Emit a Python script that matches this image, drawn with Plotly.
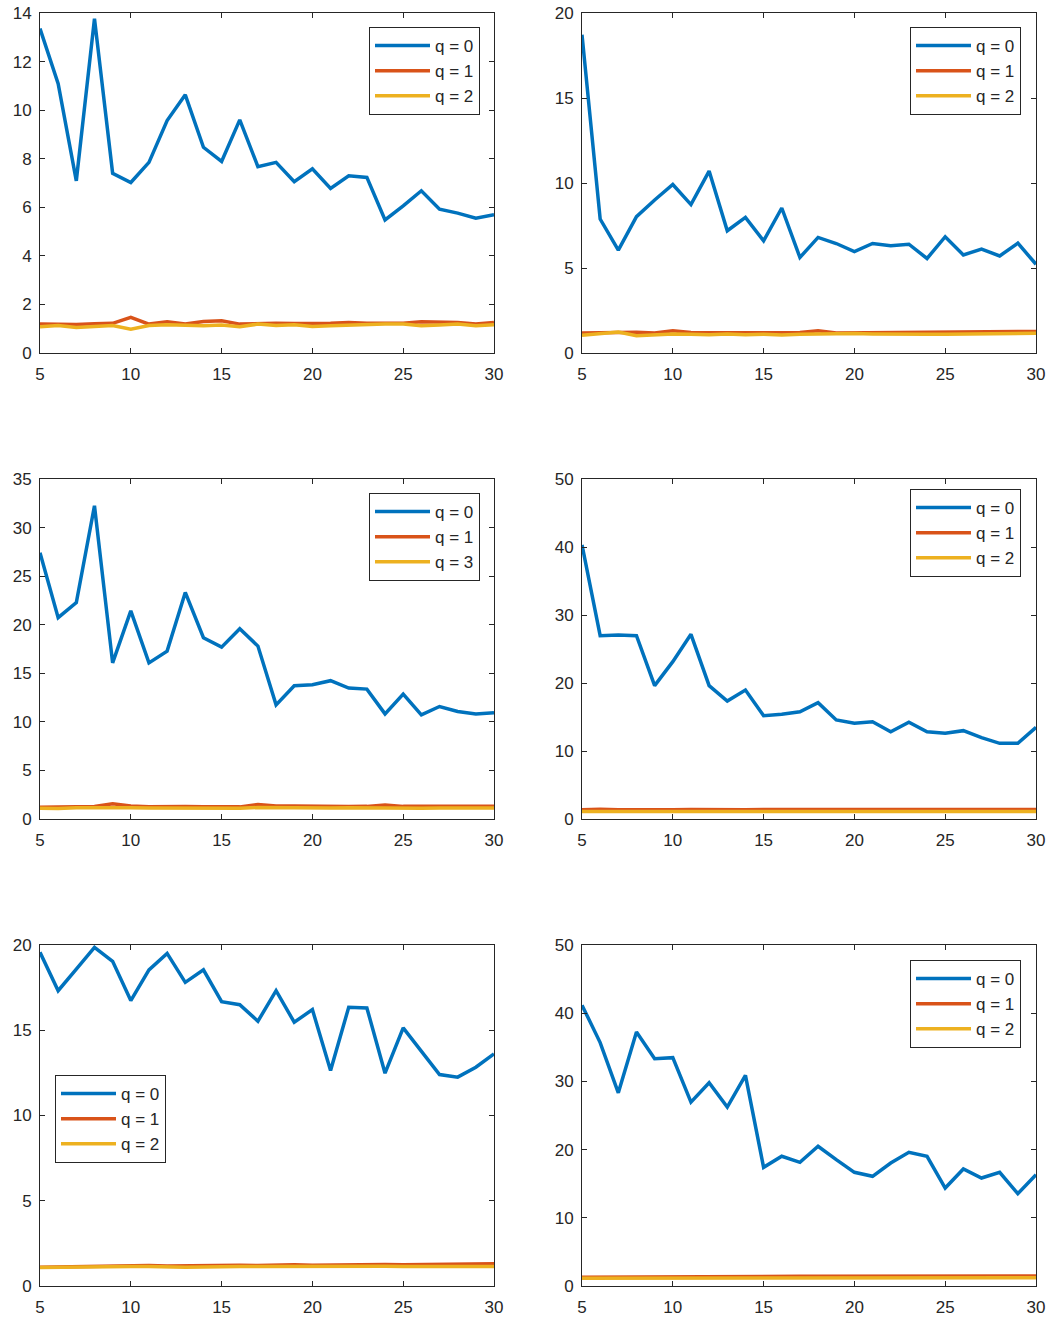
import plotly.graph_objects as go

# ---------------- data ----------------
x_vals = list(range(5, 31))

# panel 1 (top-left)
p1_q0 = [13.36, 11.09, 7.09, 13.77, 7.40, 7.02, 7.85, 9.57, 10.63, 8.47, 7.89, 9.60, 7.67,
         7.85, 7.05, 7.58, 6.78, 7.30, 7.23, 5.48, 6.06, 6.68, 5.92, 5.76, 5.55, 5.69]
p1_q1 = [1.19, 1.18, 1.17, 1.20, 1.22, 1.47, 1.19, 1.29, 1.19, 1.30, 1.33, 1.19, 1.22,
         1.22, 1.21, 1.21, 1.23, 1.26, 1.22, 1.22, 1.23, 1.29, 1.26, 1.26, 1.19, 1.26]
p1_q2 = [1.08, 1.13, 1.05, 1.08, 1.13, 0.98, 1.13, 1.16, 1.15, 1.12, 1.15, 1.08, 1.19,
         1.13, 1.16, 1.09, 1.12, 1.15, 1.19, 1.19, 1.19, 1.12, 1.15, 1.19, 1.12, 1.16]

# panel 2 (top-right)
p2_q0 = [18.72, 7.88, 6.05, 8.02, 9.00, 9.91, 8.73, 10.70, 7.19, 7.98, 6.60, 8.53, 5.62,
         6.80, 6.44, 5.97, 6.44, 6.31, 6.40, 5.56, 6.84, 5.77, 6.11, 5.71, 6.46, 5.22]
p2_q1 = [1.18, 1.20, 1.19, 1.22, 1.18, 1.31, 1.20, 1.19, 1.18, 1.18, 1.21, 1.19, 1.20,
         1.31, 1.18, 1.19, 1.20, 1.18, 1.22, 1.24, 1.24, 1.26, 1.27, 1.28, 1.29, 1.27]
p2_q2 = [1.05, 1.15, 1.24, 1.02, 1.08, 1.12, 1.10, 1.08, 1.12, 1.08, 1.10, 1.06, 1.10,
         1.12, 1.10, 1.14, 1.12, 1.10, 1.12, 1.10, 1.10, 1.12, 1.12, 1.12, 1.14, 1.16]

# panel 3 (middle-left)
p3_q0 = [27.40, 20.73, 22.29, 32.24, 16.07, 21.42, 16.07, 17.28, 23.32, 18.66, 17.69, 19.59, 17.80,
         11.75, 13.72, 13.82, 14.24, 13.48, 13.37, 10.82, 12.85, 10.71, 11.58, 11.06, 10.82, 10.95]
p3_q1 = [1.22, 1.25, 1.30, 1.28, 1.58, 1.35, 1.25, 1.30, 1.28, 1.25, 1.22, 1.25, 1.50,
         1.35, 1.35, 1.30, 1.28, 1.28, 1.30, 1.45, 1.30, 1.28, 1.28, 1.30, 1.30, 1.32]
p3_q2 = [1.10, 1.08, 1.15, 1.18, 1.20, 1.15, 1.12, 1.10, 1.12, 1.15, 1.12, 1.10, 1.18,
         1.15, 1.18, 1.15, 1.12, 1.15, 1.12, 1.15, 1.12, 1.10, 1.12, 1.12, 1.10, 1.12]

# panel 4 (middle-right)
p4_q0 = [40.30, 26.96, 27.06, 26.96, 19.61, 23.14, 27.16, 19.61, 17.35, 18.97, 15.20, 15.39, 15.78,
         17.11, 14.56, 14.07, 14.31, 12.84, 14.22, 12.84, 12.60, 12.99, 11.96, 11.13, 11.13, 13.48]
p4_q1 = [1.35, 1.45, 1.35, 1.32, 1.30, 1.35, 1.38, 1.35, 1.38, 1.35, 1.40, 1.42, 1.40,
         1.42, 1.40, 1.42, 1.40, 1.38, 1.40, 1.48, 1.40, 1.40, 1.40, 1.40, 1.38, 1.40]
p4_q2 = [1.10, 1.12, 1.10, 1.12, 1.10, 1.12, 1.10, 1.12, 1.12, 1.10, 1.12, 1.12, 1.10,
         1.12, 1.12, 1.10, 1.12, 1.12, 1.10, 1.12, 1.10, 1.12, 1.10, 1.12, 1.10, 1.12]

# panel 5 (bottom-left)
p5_q0 = [19.57, 17.32, 18.59, 19.86, 19.04, 16.74, 18.54, 19.51, 17.81, 18.54, 16.68, 16.50, 15.53,
         17.32, 15.47, 16.21, 12.64, 16.35, 16.31, 12.48, 15.14, 13.77, 12.40, 12.25, 12.83, 13.61]
p5_q1 = [1.10, 1.12, 1.15, 1.18, 1.18, 1.20, 1.20, 1.18, 1.20, 1.22, 1.25, 1.22, 1.20,
         1.24, 1.24, 1.22, 1.24, 1.22, 1.26, 1.26, 1.24, 1.25, 1.27, 1.28, 1.26, 1.30]
p5_q2 = [1.08, 1.10, 1.10, 1.12, 1.15, 1.14, 1.15, 1.12, 1.10, 1.12, 1.15, 1.15, 1.14,
         1.15, 1.14, 1.15, 1.16, 1.15, 1.18, 1.16, 1.14, 1.16, 1.14, 1.15, 1.14, 1.15]

# panel 6 (bottom-right)
p6_q0 = [41.18, 35.69, 28.33, 37.25, 33.33, 33.48, 26.96, 29.80, 26.23, 30.88, 17.40, 19.02, 18.14,
         20.49, 18.53, 16.67, 16.08, 18.04, 19.61, 19.02, 14.36, 17.16, 15.83, 16.67, 13.53, 16.32]
p6_q1 = [1.30, 1.32, 1.33, 1.35, 1.38, 1.38, 1.36, 1.38, 1.40, 1.40, 1.42, 1.40, 1.42,
         1.42, 1.42, 1.45, 1.44, 1.45, 1.50, 1.46, 1.45, 1.45, 1.44, 1.45, 1.46, 1.48]
p6_q2 = [1.12, 1.12, 1.14, 1.15, 1.15, 1.16, 1.15, 1.16, 1.18, 1.18, 1.18, 1.18, 1.20,
         1.18, 1.20, 1.20, 1.18, 1.20, 1.22, 1.20, 1.20, 1.20, 1.18, 1.20, 1.20, 1.22]

panels = [
    (p1_q0, p1_q1, p1_q2, ["q = 0", "q = 1", "q = 2"]),
    (p2_q0, p2_q1, p2_q2, ["q = 0", "q = 1", "q = 2"]),
    (p3_q0, p3_q1, p3_q2, ["q = 0", "q = 1", "q = 3"]),
    (p4_q0, p4_q1, p4_q2, ["q = 0", "q = 1", "q = 2"]),
    (p5_q0, p5_q1, p5_q2, ["q = 0", "q = 1", "q = 2"]),
    (p6_q0, p6_q1, p6_q2, ["q = 0", "q = 1", "q = 2"]),
]
y_ranges = [(0, 14), (0, 20), (0, 35), (0, 50), (0, 20), (0, 50)]
y_dticks = [2, 5, 5, 10, 5, 10]
x_ticks = [5, 10, 15, 20, 25, 30]

# ---------------- styling ----------------
W, H = 1051, 1320
colors = ["#0072BD", "#D95319", "#EDB120"]
axis_col = "#262626"
font_family = "Liberation Sans, Arial, sans-serif"


def px(X):
    return X / W


def py(Y):
    return 1 - Y / H


col_dom = [(px(40), px(494)), (px(582), px(1036))]
row_dom = [(py(353), py(13)), (py(819), py(479)), (py(1286), py(945))]

# legend anchors (paper coords): x, y, xanchor
legend_pos = [
    (px(480), py(27), "right"),
    (px(1021), py(27), "right"),
    (px(480), py(493), "right"),
    (px(1021), py(489), "right"),
    (px(55), py(1075), "left"),
    (px(1021), py(960), "right"),
]

fig = go.Figure()
layout = dict(
    width=W, height=H,
    margin=dict(l=0, r=0, t=0, b=0, autoexpand=False),
    paper_bgcolor="white", plot_bgcolor="white",
    font=dict(family=font_family, size=17, color=axis_col),
)

for i, (s0, s1, s2, names) in enumerate(panels):
    r, c = divmod(i, 2)
    k = i + 1
    xa = "x" if k == 1 else f"x{k}"
    ya = "y" if k == 1 else f"y{k}"
    lg = "legend" if k == 1 else f"legend{k}"
    for series, name, colr in zip((s0, s1, s2), names, colors):
        fig.add_trace(go.Scatter(
            x=x_vals, y=series, mode="lines", name=name,
            line=dict(color=colr, width=3.5),
            xaxis=xa, yaxis=ya, legend=lg, showlegend=True,
        ))
    axis_common = dict(
        showgrid=False, zeroline=False, showline=True, linecolor=axis_col, linewidth=1,
        mirror="ticks", ticks="inside", ticklen=5, tickcolor=axis_col, tickwidth=1,
        automargin=False, ticklabeloverflow="allow",
        tickfont=dict(family=font_family, size=17, color=axis_col),
    )
    layout["xaxis" if k == 1 else f"xaxis{k}"] = dict(
        domain=list(col_dom[c]), anchor=ya, range=[5, 30],
        tickmode="array", tickvals=x_ticks, ticklabelstandoff=6, **axis_common,
    )
    lo, hi = y_ranges[i]
    layout["yaxis" if k == 1 else f"yaxis{k}"] = dict(
        domain=list(row_dom[r]), anchor=xa, range=[lo, hi],
        tickmode="linear", tick0=0, dtick=y_dticks[i], ticklabelstandoff=4, **axis_common,
    )
    lx, ly, xanc = legend_pos[i]
    layout[lg] = dict(
        x=lx, y=ly, xanchor=xanc, yanchor="top",
        bgcolor="white", bordercolor=axis_col, borderwidth=1,
        font=dict(family=font_family, size=17, color=axis_col),
        itemwidth=55, tracegroupgap=0, traceorder="normal",
    )

fig.update_layout(**layout)
# remove the browser's default 8px page margin so the figure fills the window exactly
fig.write_html(
    "out.html",
    config={"displayModeBar": False},
    post_script="document.body.style.margin='0';document.body.style.overflow='hidden';",
)
